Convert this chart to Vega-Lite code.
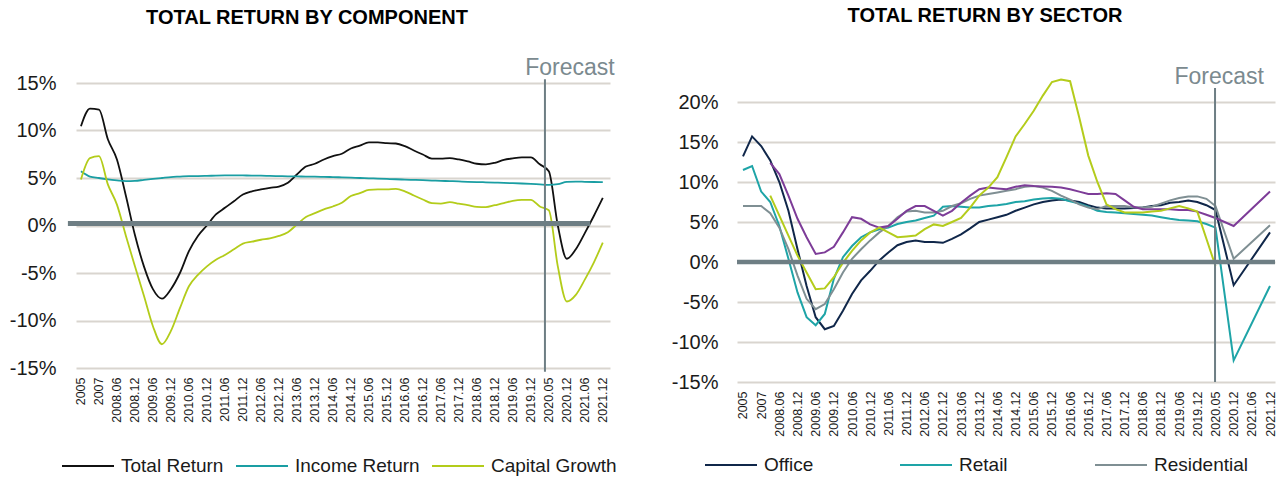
{
  "$schema": "https://vega.github.io/schema/vega-lite/v6.json",
  "background": "white",
  "padding": {"left": 0, "top": 6, "right": 0, "bottom": 0},
  "autosize": {"type": "pad"},
  "spacing": 52,
  "resolve": {"scale": {"color": "independent"}, "legend": {"color": "independent"}},
  "config": {
    "font": "Liberation Sans",
    "view": {"stroke": null},
    "axis": {"labelFont": "Liberation Sans", "labelColor": "#1a1a1a", "ticks": false, "domain": false},
    "title": {"font": "Liberation Sans", "fontSize": 20, "fontWeight": "bold", "color": "#000000", "anchor": "middle"},
    "legend": {"labelFont": "Liberation Sans", "labelFontSize": 19, "labelColor": "#1a1a1a", "symbolType": "stroke", "symbolSize": 2704, "symbolStrokeWidth": 2, "labelOffset": 6, "orient": "none", "direction": "horizontal", "title": null}
  },
  "datasets": {
    "component": [
      {"s":"Total Return","i":0,"v":10.45},{"s":"Total Return","i":1,"v":12.3},{"s":"Total Return","i":2,"v":12.2},{"s":"Total Return","i":3,"v":9.05},{"s":"Total Return","i":4,"v":6.95},{"s":"Total Return","i":5,"v":3.1},{"s":"Total Return","i":6,"v":-1.0},{"s":"Total Return","i":7,"v":-4.3},{"s":"Total Return","i":8,"v":-6.7},{"s":"Total Return","i":9,"v":-7.7},{"s":"Total Return","i":10,"v":-6.7},{"s":"Total Return","i":11,"v":-5.0},{"s":"Total Return","i":12,"v":-2.7},{"s":"Total Return","i":13,"v":-1.1},{"s":"Total Return","i":14,"v":0.0},{"s":"Total Return","i":15,"v":1.16},{"s":"Total Return","i":16,"v":1.86},{"s":"Total Return","i":17,"v":2.56},{"s":"Total Return","i":18,"v":3.26},{"s":"Total Return","i":19,"v":3.6},{"s":"Total Return","i":20,"v":3.8},{"s":"Total Return","i":21,"v":3.97},{"s":"Total Return","i":22,"v":4.1},{"s":"Total Return","i":23,"v":4.5},{"s":"Total Return","i":24,"v":5.37},{"s":"Total Return","i":25,"v":6.2},{"s":"Total Return","i":26,"v":6.5},{"s":"Total Return","i":27,"v":6.95},{"s":"Total Return","i":28,"v":7.3},{"s":"Total Return","i":29,"v":7.55},{"s":"Total Return","i":30,"v":8.1},{"s":"Total Return","i":31,"v":8.4},{"s":"Total Return","i":32,"v":8.75},{"s":"Total Return","i":33,"v":8.75},{"s":"Total Return","i":34,"v":8.67},{"s":"Total Return","i":35,"v":8.63},{"s":"Total Return","i":36,"v":8.35},{"s":"Total Return","i":37,"v":7.9},{"s":"Total Return","i":38,"v":7.47},{"s":"Total Return","i":39,"v":7.05},{"s":"Total Return","i":40,"v":7.05},{"s":"Total Return","i":41,"v":7.1},{"s":"Total Return","i":42,"v":6.95},{"s":"Total Return","i":43,"v":6.74},{"s":"Total Return","i":44,"v":6.5},{"s":"Total Return","i":45,"v":6.44},{"s":"Total Return","i":46,"v":6.6},{"s":"Total Return","i":47,"v":6.9},{"s":"Total Return","i":48,"v":7.07},{"s":"Total Return","i":49,"v":7.17},{"s":"Total Return","i":50,"v":7.17},{"s":"Total Return","i":51,"v":6.44},{"s":"Total Return","i":52,"v":5.7},{"s":"Total Return","i":53,"v":0.0},{"s":"Total Return","i":54,"v":-3.5},{"s":"Total Return","i":55,"v":-2.5},{"s":"Total Return","i":56,"v":-0.8},{"s":"Total Return","i":57,"v":1.0},{"s":"Total Return","i":58,"v":2.9},
      {"s":"Income Return","i":0,"v":5.7},{"s":"Income Return","i":1,"v":5.15},{"s":"Income Return","i":2,"v":5.0},{"s":"Income Return","i":3,"v":4.85},{"s":"Income Return","i":4,"v":4.75},{"s":"Income Return","i":5,"v":4.68},{"s":"Income Return","i":6,"v":4.7},{"s":"Income Return","i":7,"v":4.8},{"s":"Income Return","i":8,"v":4.9},{"s":"Income Return","i":9,"v":5.0},{"s":"Income Return","i":10,"v":5.1},{"s":"Income Return","i":11,"v":5.15},{"s":"Income Return","i":12,"v":5.2},{"s":"Income Return","i":13,"v":5.2},{"s":"Income Return","i":14,"v":5.22},{"s":"Income Return","i":15,"v":5.25},{"s":"Income Return","i":16,"v":5.27},{"s":"Income Return","i":17,"v":5.28},{"s":"Income Return","i":18,"v":5.27},{"s":"Income Return","i":19,"v":5.25},{"s":"Income Return","i":20,"v":5.25},{"s":"Income Return","i":21,"v":5.22},{"s":"Income Return","i":22,"v":5.2},{"s":"Income Return","i":23,"v":5.18},{"s":"Income Return","i":24,"v":5.17},{"s":"Income Return","i":25,"v":5.15},{"s":"Income Return","i":26,"v":5.14},{"s":"Income Return","i":27,"v":5.12},{"s":"Income Return","i":28,"v":5.1},{"s":"Income Return","i":29,"v":5.07},{"s":"Income Return","i":30,"v":5.04},{"s":"Income Return","i":31,"v":5.0},{"s":"Income Return","i":32,"v":4.97},{"s":"Income Return","i":33,"v":4.93},{"s":"Income Return","i":34,"v":4.9},{"s":"Income Return","i":35,"v":4.87},{"s":"Income Return","i":36,"v":4.83},{"s":"Income Return","i":37,"v":4.8},{"s":"Income Return","i":38,"v":4.77},{"s":"Income Return","i":39,"v":4.73},{"s":"Income Return","i":40,"v":4.7},{"s":"Income Return","i":41,"v":4.67},{"s":"Income Return","i":42,"v":4.64},{"s":"Income Return","i":43,"v":4.6},{"s":"Income Return","i":44,"v":4.57},{"s":"Income Return","i":45,"v":4.55},{"s":"Income Return","i":46,"v":4.52},{"s":"Income Return","i":47,"v":4.48},{"s":"Income Return","i":48,"v":4.45},{"s":"Income Return","i":49,"v":4.42},{"s":"Income Return","i":50,"v":4.38},{"s":"Income Return","i":51,"v":4.33},{"s":"Income Return","i":52,"v":4.28},{"s":"Income Return","i":53,"v":4.35},{"s":"Income Return","i":54,"v":4.6},{"s":"Income Return","i":55,"v":4.62},{"s":"Income Return","i":56,"v":4.6},{"s":"Income Return","i":57,"v":4.58},{"s":"Income Return","i":58,"v":4.57},
      {"s":"Capital Growth","i":0,"v":4.84},{"s":"Capital Growth","i":1,"v":7.1},{"s":"Capital Growth","i":2,"v":7.3},{"s":"Capital Growth","i":3,"v":4.3},{"s":"Capital Growth","i":4,"v":2.2},{"s":"Capital Growth","i":5,"v":-1.1},{"s":"Capital Growth","i":6,"v":-4.3},{"s":"Capital Growth","i":7,"v":-7.4},{"s":"Capital Growth","i":8,"v":-10.6},{"s":"Capital Growth","i":9,"v":-12.5},{"s":"Capital Growth","i":10,"v":-11.1},{"s":"Capital Growth","i":11,"v":-8.7},{"s":"Capital Growth","i":12,"v":-6.4},{"s":"Capital Growth","i":13,"v":-5.2},{"s":"Capital Growth","i":14,"v":-4.3},{"s":"Capital Growth","i":15,"v":-3.6},{"s":"Capital Growth","i":16,"v":-3.1},{"s":"Capital Growth","i":17,"v":-2.5},{"s":"Capital Growth","i":18,"v":-1.9},{"s":"Capital Growth","i":19,"v":-1.7},{"s":"Capital Growth","i":20,"v":-1.5},{"s":"Capital Growth","i":21,"v":-1.35},{"s":"Capital Growth","i":22,"v":-1.1},{"s":"Capital Growth","i":23,"v":-0.7},{"s":"Capital Growth","i":24,"v":0.1},{"s":"Capital Growth","i":25,"v":0.9},{"s":"Capital Growth","i":26,"v":1.3},{"s":"Capital Growth","i":27,"v":1.7},{"s":"Capital Growth","i":28,"v":2.0},{"s":"Capital Growth","i":29,"v":2.4},{"s":"Capital Growth","i":30,"v":3.1},{"s":"Capital Growth","i":31,"v":3.4},{"s":"Capital Growth","i":32,"v":3.75},{"s":"Capital Growth","i":33,"v":3.8},{"s":"Capital Growth","i":34,"v":3.8},{"s":"Capital Growth","i":35,"v":3.85},{"s":"Capital Growth","i":36,"v":3.6},{"s":"Capital Growth","i":37,"v":3.16},{"s":"Capital Growth","i":38,"v":2.74},{"s":"Capital Growth","i":39,"v":2.35},{"s":"Capital Growth","i":40,"v":2.3},{"s":"Capital Growth","i":41,"v":2.46},{"s":"Capital Growth","i":42,"v":2.3},{"s":"Capital Growth","i":43,"v":2.14},{"s":"Capital Growth","i":44,"v":1.96},{"s":"Capital Growth","i":45,"v":1.93},{"s":"Capital Growth","i":46,"v":2.14},{"s":"Capital Growth","i":47,"v":2.35},{"s":"Capital Growth","i":48,"v":2.6},{"s":"Capital Growth","i":49,"v":2.7},{"s":"Capital Growth","i":50,"v":2.7},{"s":"Capital Growth","i":51,"v":2.0},{"s":"Capital Growth","i":52,"v":1.6},{"s":"Capital Growth","i":53,"v":-4.3},{"s":"Capital Growth","i":54,"v":-8.0},{"s":"Capital Growth","i":55,"v":-7.3},{"s":"Capital Growth","i":56,"v":-5.7},{"s":"Capital Growth","i":57,"v":-3.9},{"s":"Capital Growth","i":58,"v":-1.8}
    ],
    "sector": [
      {"s":"Office","i":0,"v":13.2},{"s":"Office","i":1,"v":15.7},{"s":"Office","i":2,"v":14.5},{"s":"Office","i":3,"v":12.7},{"s":"Office","i":4,"v":10.0},{"s":"Office","i":5,"v":6.4},{"s":"Office","i":6,"v":1.6},{"s":"Office","i":7,"v":-3.0},{"s":"Office","i":8,"v":-6.9},{"s":"Office","i":9,"v":-8.4},{"s":"Office","i":10,"v":-8.0},{"s":"Office","i":11,"v":-6.1},{"s":"Office","i":12,"v":-4.0},{"s":"Office","i":13,"v":-2.3},{"s":"Office","i":14,"v":-1.1},{"s":"Office","i":15,"v":0.2},{"s":"Office","i":16,"v":1.2},{"s":"Office","i":17,"v":2.1},{"s":"Office","i":18,"v":2.5},{"s":"Office","i":19,"v":2.7},{"s":"Office","i":20,"v":2.5},{"s":"Office","i":21,"v":2.5},{"s":"Office","i":22,"v":2.4},{"s":"Office","i":23,"v":2.9},{"s":"Office","i":24,"v":3.45},{"s":"Office","i":25,"v":4.2},{"s":"Office","i":26,"v":5.0},{"s":"Office","i":27,"v":5.3},{"s":"Office","i":28,"v":5.6},{"s":"Office","i":29,"v":5.9},{"s":"Office","i":30,"v":6.4},{"s":"Office","i":31,"v":6.8},{"s":"Office","i":32,"v":7.2},{"s":"Office","i":33,"v":7.5},{"s":"Office","i":34,"v":7.7},{"s":"Office","i":35,"v":7.8},{"s":"Office","i":36,"v":7.7},{"s":"Office","i":37,"v":7.5},{"s":"Office","i":38,"v":7.1},{"s":"Office","i":39,"v":6.8},{"s":"Office","i":40,"v":6.7},{"s":"Office","i":41,"v":6.7},{"s":"Office","i":42,"v":6.7},{"s":"Office","i":43,"v":6.75},{"s":"Office","i":44,"v":6.8},{"s":"Office","i":45,"v":7.0},{"s":"Office","i":46,"v":7.1},{"s":"Office","i":47,"v":7.4},{"s":"Office","i":48,"v":7.5},{"s":"Office","i":49,"v":7.7},{"s":"Office","i":50,"v":7.5},{"s":"Office","i":51,"v":7.1},{"s":"Office","i":52,"v":6.5},{"s":"Office","i":54,"v":-2.9},{"s":"Office","i":58,"v":3.7},
      {"s":"Retail","i":0,"v":11.5},{"s":"Retail","i":1,"v":12.0},{"s":"Retail","i":2,"v":8.8},{"s":"Retail","i":3,"v":7.5},{"s":"Retail","i":4,"v":4.5},{"s":"Retail","i":5,"v":0.4},{"s":"Retail","i":6,"v":-3.8},{"s":"Retail","i":7,"v":-6.9},{"s":"Retail","i":8,"v":-7.9},{"s":"Retail","i":9,"v":-6.5},{"s":"Retail","i":10,"v":-2.1},{"s":"Retail","i":11,"v":0.6},{"s":"Retail","i":12,"v":2.0},{"s":"Retail","i":13,"v":3.1},{"s":"Retail","i":14,"v":3.7},{"s":"Retail","i":15,"v":4.1},{"s":"Retail","i":16,"v":4.3},{"s":"Retail","i":17,"v":4.75},{"s":"Retail","i":18,"v":5.0},{"s":"Retail","i":19,"v":5.2},{"s":"Retail","i":20,"v":5.5},{"s":"Retail","i":21,"v":5.8},{"s":"Retail","i":22,"v":6.9},{"s":"Retail","i":23,"v":7.0},{"s":"Retail","i":24,"v":6.9},{"s":"Retail","i":25,"v":6.8},{"s":"Retail","i":26,"v":6.8},{"s":"Retail","i":27,"v":7.0},{"s":"Retail","i":28,"v":7.1},{"s":"Retail","i":29,"v":7.25},{"s":"Retail","i":30,"v":7.5},{"s":"Retail","i":31,"v":7.6},{"s":"Retail","i":32,"v":7.8},{"s":"Retail","i":33,"v":7.95},{"s":"Retail","i":34,"v":8.0},{"s":"Retail","i":35,"v":7.9},{"s":"Retail","i":36,"v":7.6},{"s":"Retail","i":37,"v":7.3},{"s":"Retail","i":38,"v":6.9},{"s":"Retail","i":39,"v":6.4},{"s":"Retail","i":40,"v":6.25},{"s":"Retail","i":41,"v":6.2},{"s":"Retail","i":42,"v":6.1},{"s":"Retail","i":43,"v":6.0},{"s":"Retail","i":44,"v":5.9},{"s":"Retail","i":45,"v":5.8},{"s":"Retail","i":46,"v":5.6},{"s":"Retail","i":47,"v":5.4},{"s":"Retail","i":48,"v":5.25},{"s":"Retail","i":49,"v":5.2},{"s":"Retail","i":50,"v":5.1},{"s":"Retail","i":51,"v":4.75},{"s":"Retail","i":52,"v":4.3},{"s":"Retail","i":54,"v":-12.3},{"s":"Retail","i":58,"v":-3.0},
      {"s":"Residential","i":0,"v":7.0},{"s":"Residential","i":1,"v":7.0},{"s":"Residential","i":2,"v":7.0},{"s":"Residential","i":3,"v":6.1},{"s":"Residential","i":4,"v":4.3},{"s":"Residential","i":5,"v":1.6},{"s":"Residential","i":6,"v":-1.7},{"s":"Residential","i":7,"v":-4.6},{"s":"Residential","i":8,"v":-5.9},{"s":"Residential","i":9,"v":-5.25},{"s":"Residential","i":10,"v":-3.4},{"s":"Residential","i":11,"v":-1.3},{"s":"Residential","i":12,"v":0.4},{"s":"Residential","i":13,"v":1.6},{"s":"Residential","i":14,"v":2.7},{"s":"Residential","i":15,"v":3.7},{"s":"Residential","i":16,"v":4.5},{"s":"Residential","i":17,"v":5.6},{"s":"Residential","i":18,"v":6.3},{"s":"Residential","i":19,"v":6.4},{"s":"Residential","i":20,"v":6.2},{"s":"Residential","i":21,"v":6.2},{"s":"Residential","i":22,"v":6.4},{"s":"Residential","i":23,"v":7.0},{"s":"Residential","i":24,"v":7.35},{"s":"Residential","i":25,"v":7.9},{"s":"Residential","i":26,"v":8.3},{"s":"Residential","i":27,"v":8.5},{"s":"Residential","i":28,"v":8.7},{"s":"Residential","i":29,"v":8.9},{"s":"Residential","i":30,"v":9.1},{"s":"Residential","i":31,"v":9.4},{"s":"Residential","i":32,"v":9.5},{"s":"Residential","i":33,"v":9.3},{"s":"Residential","i":34,"v":8.9},{"s":"Residential","i":35,"v":8.3},{"s":"Residential","i":36,"v":7.8},{"s":"Residential","i":37,"v":7.2},{"s":"Residential","i":38,"v":6.8},{"s":"Residential","i":39,"v":6.6},{"s":"Residential","i":40,"v":7.0},{"s":"Residential","i":41,"v":7.0},{"s":"Residential","i":42,"v":7.0},{"s":"Residential","i":43,"v":6.8},{"s":"Residential","i":44,"v":6.8},{"s":"Residential","i":45,"v":6.9},{"s":"Residential","i":46,"v":7.3},{"s":"Residential","i":47,"v":7.7},{"s":"Residential","i":48,"v":8.0},{"s":"Residential","i":49,"v":8.2},{"s":"Residential","i":50,"v":8.2},{"s":"Residential","i":51,"v":7.9},{"s":"Residential","i":52,"v":7.0},{"s":"Residential","i":54,"v":0.4},{"s":"Residential","i":58,"v":4.6},
      {"s":"Logistics","i":3,"v":12.4},{"s":"Logistics","i":4,"v":11.0},{"s":"Logistics","i":5,"v":8.3},{"s":"Logistics","i":6,"v":5.4},{"s":"Logistics","i":7,"v":3.1},{"s":"Logistics","i":8,"v":1.0},{"s":"Logistics","i":9,"v":1.2},{"s":"Logistics","i":10,"v":1.9},{"s":"Logistics","i":11,"v":3.7},{"s":"Logistics","i":12,"v":5.6},{"s":"Logistics","i":13,"v":5.4},{"s":"Logistics","i":14,"v":4.7},{"s":"Logistics","i":15,"v":4.3},{"s":"Logistics","i":16,"v":4.5},{"s":"Logistics","i":17,"v":5.4},{"s":"Logistics","i":18,"v":6.4},{"s":"Logistics","i":19,"v":7.0},{"s":"Logistics","i":20,"v":7.0},{"s":"Logistics","i":21,"v":6.4},{"s":"Logistics","i":22,"v":5.8},{"s":"Logistics","i":23,"v":6.4},{"s":"Logistics","i":24,"v":7.4},{"s":"Logistics","i":25,"v":8.3},{"s":"Logistics","i":26,"v":9.1},{"s":"Logistics","i":27,"v":9.3},{"s":"Logistics","i":28,"v":9.2},{"s":"Logistics","i":29,"v":9.1},{"s":"Logistics","i":30,"v":9.4},{"s":"Logistics","i":31,"v":9.6},{"s":"Logistics","i":32,"v":9.5},{"s":"Logistics","i":33,"v":9.45},{"s":"Logistics","i":34,"v":9.4},{"s":"Logistics","i":35,"v":9.3},{"s":"Logistics","i":36,"v":9.1},{"s":"Logistics","i":37,"v":8.8},{"s":"Logistics","i":38,"v":8.5},{"s":"Logistics","i":39,"v":8.5},{"s":"Logistics","i":40,"v":8.6},{"s":"Logistics","i":41,"v":8.5},{"s":"Logistics","i":42,"v":7.7},{"s":"Logistics","i":43,"v":6.9},{"s":"Logistics","i":44,"v":6.6},{"s":"Logistics","i":45,"v":6.6},{"s":"Logistics","i":46,"v":6.6},{"s":"Logistics","i":47,"v":6.6},{"s":"Logistics","i":48,"v":6.5},{"s":"Logistics","i":49,"v":6.5},{"s":"Logistics","i":50,"v":6.3},{"s":"Logistics","i":51,"v":5.9},{"s":"Logistics","i":52,"v":5.5},{"s":"Logistics","i":54,"v":4.5},{"s":"Logistics","i":58,"v":8.8},
      {"s":"Hotel","i":3,"v":8.3},{"s":"Hotel","i":4,"v":5.8},{"s":"Hotel","i":5,"v":3.3},{"s":"Hotel","i":6,"v":0.8},{"s":"Hotel","i":7,"v":-1.3},{"s":"Hotel","i":8,"v":-3.4},{"s":"Hotel","i":9,"v":-3.3},{"s":"Hotel","i":10,"v":-1.9},{"s":"Hotel","i":11,"v":-0.1},{"s":"Hotel","i":12,"v":1.4},{"s":"Hotel","i":13,"v":2.7},{"s":"Hotel","i":14,"v":3.7},{"s":"Hotel","i":15,"v":4.3},{"s":"Hotel","i":16,"v":3.7},{"s":"Hotel","i":17,"v":3.1},{"s":"Hotel","i":18,"v":3.2},{"s":"Hotel","i":19,"v":3.3},{"s":"Hotel","i":20,"v":4.1},{"s":"Hotel","i":21,"v":4.7},{"s":"Hotel","i":22,"v":4.5},{"s":"Hotel","i":23,"v":5.0},{"s":"Hotel","i":24,"v":5.5},{"s":"Hotel","i":25,"v":6.8},{"s":"Hotel","i":26,"v":8.3},{"s":"Hotel","i":27,"v":9.3},{"s":"Hotel","i":28,"v":10.6},{"s":"Hotel","i":29,"v":13.1},{"s":"Hotel","i":30,"v":15.7},{"s":"Hotel","i":31,"v":17.25},{"s":"Hotel","i":32,"v":18.9},{"s":"Hotel","i":33,"v":20.8},{"s":"Hotel","i":34,"v":22.5},{"s":"Hotel","i":35,"v":22.8},{"s":"Hotel","i":36,"v":22.6},{"s":"Hotel","i":37,"v":18.1},{"s":"Hotel","i":38,"v":13.3},{"s":"Hotel","i":39,"v":10.0},{"s":"Hotel","i":40,"v":7.2},{"s":"Hotel","i":41,"v":6.6},{"s":"Hotel","i":42,"v":6.2},{"s":"Hotel","i":43,"v":6.2},{"s":"Hotel","i":44,"v":6.2},{"s":"Hotel","i":45,"v":6.3},{"s":"Hotel","i":46,"v":6.4},{"s":"Hotel","i":47,"v":6.7},{"s":"Hotel","i":48,"v":7.0},{"s":"Hotel","i":49,"v":6.7},{"s":"Hotel","i":50,"v":6.3},{"s":"Hotel","i":51,"v":2.9},{"s":"Hotel","i":52,"v":-0.5}
    ]
  },
  "hconcat": [
    {
      "width": 534,
      "height": 285,
      "title": {"text": "TOTAL RETURN BY COMPONENT", "offset": 29, "dx": -36},
      "encoding": {
        "x": {"field": "i", "type": "quantitative", "scale": {"domain": [-0.55, 58.8], "nice": false, "zero": false},
          "axis": {"title": null, "grid": false, "values": [0,2,4,6,8,10,12,14,16,18,20,22,24,26,28,30,32,34,36,38,40,42,44,46,48,50,52,54,56,58],
            "labelExpr": "['2005','2007','2008.06','2008.12','2009.06','2009.12','2010.06','2010.12','2011.06','2011.12','2012.06','2012.12','2013.06','2013.12','2014.06','2014.12','2015.06','2015.12','2016.06','2016.12','2017.06','2017.12','2018.06','2018.12','2019.06','2019.12','2020.05','2020.12','2021.06','2021.12'][round(datum.value/2)]",
            "labelAngle": -90, "labelFontSize": 12.5, "labelPadding": 9, "labelOverlap": false, "labelBound": false, "labelFlush": false}},
        "y": {"field": "v", "type": "quantitative", "scale": {"domain": [-15, 15], "nice": false, "zero": false},
          "axis": {"title": null, "values": [-15,-10,-5,0,5,10,15], "labelExpr": "datum.value + '%'", "labelFontSize": 20, "labelPadding": 20,
            "grid": true, "gridColor": "#d9d5cf", "gridWidth": 2, "minExtent": 76, "maxExtent": 76}}
      },
      "layer": [
        {
          "data": {"name": "component"},
          "mark": {"type": "line", "interpolate": "monotone", "strokeWidth": 1.8},
          "encoding": {
            "color": {"field": "s", "type": "nominal", "sort": ["Total Return", "Income Return", "Capital Growth"],
              "scale": {"domain": ["Total Return", "Income Return", "Capital Growth"], "range": ["#111111", "#1a9ea3", "#b3cc1a"]},
              "legend": {"legendX": -15, "legendY": 356, "columnPadding": 8}}
          }
        },
        {
          "data": {"values": [{"x": -1.45, "x2": 56.6, "y": 0.2}]},
          "mark": {"type": "rule", "color": "#6e7e84", "strokeWidth": 5},
          "encoding": {"x": {"field": "x", "type": "quantitative"}, "x2": {"field": "x2"}, "y": {"field": "y", "type": "quantitative"}}
        },
        {
          "data": {"values": [{"x": 51.57, "y": 15.4, "y2": -15.4}]},
          "mark": {"type": "rule", "color": "#6e7e84", "strokeWidth": 2},
          "encoding": {"x": {"field": "x", "type": "quantitative"}, "y": {"field": "y", "type": "quantitative"}, "y2": {"field": "y2"}}
        },
        {
          "data": {"values": [{"x": 54.35, "y": 15.8, "label": "Forecast"}]},
          "mark": {"type": "text", "color": "#7b8a8f", "fontSize": 23, "align": "center", "baseline": "alphabetic"},
          "encoding": {"x": {"field": "x", "type": "quantitative"}, "y": {"field": "y", "type": "quantitative"}, "text": {"field": "label"}}
        }
      ]
    },
    {
      "width": 538,
      "height": 299,
      "title": {"text": "TOTAL RETURN BY SECTOR", "offset": 40, "dx": -21},
      "encoding": {
        "x": {"field": "i", "type": "quantitative", "scale": {"domain": [-0.66, 58.55], "nice": false, "zero": false},
          "axis": {"title": null, "grid": false, "values": [0,2,4,6,8,10,12,14,16,18,20,22,24,26,28,30,32,34,36,38,40,42,44,46,48,50,52,54,56,58],
            "labelExpr": "['2005','2007','2008.06','2008.12','2009.06','2009.12','2010.06','2010.12','2011.06','2011.12','2012.06','2012.12','2013.06','2013.12','2014.06','2014.12','2015.06','2015.12','2016.06','2016.12','2017.06','2017.12','2018.06','2018.12','2019.06','2019.12','2020.05','2020.12','2021.06','2021.12'][round(datum.value/2)]",
            "labelAngle": -90, "labelFontSize": 12.5, "labelPadding": 9, "labelOverlap": false, "labelBound": false, "labelFlush": false}},
        "y": {"field": "v", "type": "quantitative", "scale": {"domain": [-15, 22.375], "nice": false, "zero": false},
          "axis": {"title": null, "values": [-15,-10,-5,0,5,10,15,20], "labelExpr": "datum.value + '%'", "labelFontSize": 20, "labelPadding": 19,
            "grid": true, "gridColor": "#d9d5cf", "gridWidth": 2, "minExtent": 68, "maxExtent": 68}}
      },
      "layer": [
        {
          "data": {"name": "sector"},
          "mark": {"type": "line", "interpolate": "linear", "strokeWidth": 2},
          "encoding": {
            "color": {"field": "s", "type": "nominal",
              "scale": {"domain": ["Office", "Retail", "Residential", "Logistics", "Hotel"], "range": ["#10274a", "#1ea4a7", "#7f8f93", "#7d3c98", "#b4cc1c"]},
              "legend": {"values": ["Office", "Retail", "Residential"], "legendX": -33, "legendY": 355, "gridAlign": "all", "columnPadding": 38}}
          }
        },
        {
          "data": {"values": [{"x": -0.66, "x2": 58.55, "y": 0}]},
          "mark": {"type": "rule", "color": "#6e7e84", "strokeWidth": 4.5},
          "encoding": {"x": {"field": "x", "type": "quantitative"}, "x2": {"field": "x2"}, "y": {"field": "y", "type": "quantitative"}}
        },
        {
          "data": {"values": [{"x": 51.95, "y": 21.75, "y2": -15}]},
          "mark": {"type": "rule", "color": "#6e7e84", "strokeWidth": 2},
          "encoding": {"x": {"field": "x", "type": "quantitative"}, "y": {"field": "y", "type": "quantitative"}, "y2": {"field": "y2"}}
        },
        {
          "data": {"values": [{"x": 52.4, "y": 22.25, "label": "Forecast"}]},
          "mark": {"type": "text", "color": "#7b8a8f", "fontSize": 23, "align": "center", "baseline": "alphabetic"},
          "encoding": {"x": {"field": "x", "type": "quantitative"}, "y": {"field": "y", "type": "quantitative"}, "text": {"field": "label"}}
        }
      ]
    }
  ]
}
